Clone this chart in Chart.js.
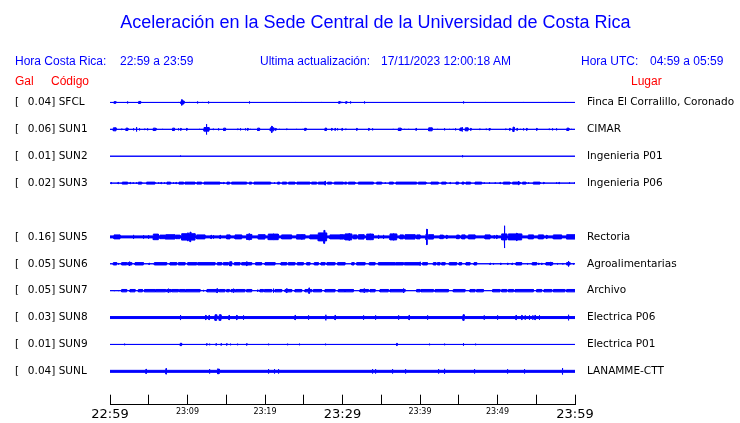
<!DOCTYPE html>
<html>
<head>
<meta charset="utf-8">
<script src="https://cdn.jsdelivr.net/npm/chart.js@4/dist/chart.umd.min.js"></script>
<style>
html,body{margin:0;padding:0;background:#fff;}
#wrap{position:relative;width:740px;height:423px;overflow:hidden;}
#c{position:absolute;left:0;top:0;}
.t{position:absolute;white-space:pre;font-family:"Liberation Sans",Arial,sans-serif;line-height:1;}
.b{color:#0000ff;font-size:12px;}
.r{color:#ff0000;font-size:12px;}
</style>
</head>
<body>
<div id="wrap">
<canvas id="c" width="740" height="423"></canvas>
<div class="t" style="left:0;top:13px;width:751px;text-align:center;font-size:18px;color:#0000ff">Aceleración en la Sede Central de la Universidad de Costa Rica</div>
<div class="t b" style="left:15px;top:55px">Hora Costa Rica:</div>
<div class="t b" style="left:120px;top:55px">22:59 a 23:59</div>
<div class="t b" style="left:260px;top:55px">Ultima actualización:</div>
<div class="t b" style="left:381px;top:55px">17/11/2023 12:00:18 AM</div>
<div class="t b" style="left:581px;top:55px">Hora UTC:</div>
<div class="t b" style="left:650px;top:55px">04:59 a 05:59</div>
<div class="t r" style="left:15px;top:75px">Gal</div>
<div class="t r" style="left:51px;top:75px">Código</div>
<div class="t r" style="left:631px;top:75px">Lugar</div>
</div>
<script>
// ---- data (minutes after 22:59, relative amplitude, duration in minutes) ----
const timeLabels = ['22:59','','23:09','','23:19','','23:29','','23:39','','23:49','','23:59'];
const bigTimeLabels = ['22:59','23:29','23:59'];
const stationCodes = ['SFCL','SUN1','SUN2','SUN3',null,'SUN5','SUN6','SUN7','SUN8','SUN9','SUNL'];
const peakGal = [0.04,0.06,0.01,0.02,null,0.16,0.05,0.05,0.03,0.01,0.04];
const stationPlaces = ['Finca El Corralillo, Coronado','CIMAR','Ingenieria P01','Ingenieria P06',null,'Rectoria','Agroalimentarias','Archivo','Electrica P06','Electrica P01','LANAMME-CTT'];
const noiseLevel = [0,0,0,0,null,1.5,0,0,1.5,0,1.5];

const evSFCL = [[0.52,1.3,0.25],[2.24,1.5],[3.70,1.5,0.25],[8.81,1.0],[9.16,2.0,0.39],[9.25,3.3],[10.23,1.0],[11.27,1.5],[11.91,1.0],[12.69,1.5],[17.97,1.5],[21.46,1.0],[23.91,1.0],[24.68,1.0],[27.26,1.0],[29.5,1.3,0.2],[29.9,1.0],[30.41,1.3,0.15],[31.01,1.5],[32.78,1.5,0.1],[45.59,1.5],[48.43,1.0],[53.33,1.0],[56.56,1.0],[58.75,1.0]];
const evSUN1 = [[0.43,2,0.35],[1.5,1],[2.06,1.7,0.25],[3.01,1.5],[3.4,2.7],[3.78,1.5],[4.47,1],[4.82,1.5],[5.59,1.7,0.3],[5.93,1],[6.75,1],[8.08,1.7,0.25],[8.81,1.5],[9.12,1.5],[9.89,1.5],[11.52,1],[12.13,2.3,0.65],[12.43,5.7],[13.29,1],[13.98,1.5],[14.66,1.7,0.25],[16.47,1],[16.81,1.5],[17.46,1.5],[17.76,1.5],[18.1,1],[19.05,1.7,0.25],[20.68,2,0.47],[20.86,3.7],[21.37,1.5],[21.84,1],[22.79,1],[24.04,1],[24.85,1],[25.11,1.5,0.2],[27.74,1.7,0.2],[28.6,1.5],[29.03,1.5],[29.33,1.5],[29.93,1.5],[30.41,1],[31.83,1.5],[33.38,1.5],[33.85,1.5],[36.52,1],[37.21,1.7,0.35],[37.98,1],[38.5,1],[39.48,1.5],[41.12,2,0.45],[42.24,1],[43.14,1.5],[43.78,1],[44.26,1],[44.56,1.5],[45.16,1.8,0.3],[45.42,2.7],[45.85,2,0.35],[46.54,1.5],[47.7,1],[48.51,1],[48.9,1.3,0.15],[51.05,1],[51.57,1.5],[52.0,2.7,0.15],[52.51,1.5],[52.94,1],[53.33,1.5],[53.76,1.5],[55.05,1.5],[56.64,1],[57.07,1.5],[57.59,1.5],[58.96,1.7,0.25],[59.52,1]];
const evSUN2 = [[9.07,1.2],[45.46,1.5]];
const evSUN3 = [[0.13,1.5],[1.03,1.3],[1.59,1.5,0.69],[2.58,1.3],[2.97,1.3],[3.4,1.3],[3.66,1.5,0.43],[4.73,1.5,1.07],[6.24,1.3],[6.58,1.3],[7.01,1.3],[7.35,1.5,0.47],[8.17,1.3],[8.51,1.3],[8.9,1.5,0.6],[9.68,1.5,1.29],[11.22,1.5,0.6],[12.13,1.5,2.06],[14.4,1.3],[14.66,1.3],[15.09,1.5,0.34],[15.7,1.5,1.94],[17.97,1.5,0.3],[18.58,1.5,2.15],[21.2,1.3],[21.63,1.5,0.26],[22.23,1.5,0.56],[23.05,1.5,0.82],[24.12,1.5,1.68],[26.02,1.5,0.65],[26.88,1.5,0.86],[27.74,2.5],[28.08,1.5,0.52],[28.94,1.5,1.2],[29.68,1.5,0.43],[30.28,1.5,0.26],[30.76,1.5,0.86],[32.05,1.5,1.94],[34.41,1.5,0.65],[35.49,1.3],[36.04,1.5,0.52],[36.9,1.5,2.67],[39.79,1.5,0.99],[41.42,1.5,0.95],[42.8,1.5,0.56],[43.87,1.3],[44.64,1.5,0.34],[45.42,1.5,0.26],[45.93,1.5,0.6],[47.1,1.5,0.86],[48.26,1.3],[48.94,1.3],[49.68,1.3],[50.32,1.3],[50.75,1.5,0.86],[51.95,1.5,0.95],[52.69,2.5],[53.24,1.5,0.43],[53.98,1.3],[54.62,1.5,0.86],[55.95,1.3],[57.59,1.3],[57.93,1.3],[59.26,1.3],[59.91,1.3]];
const evSUN5 = [[0.52,2.5,0.77],[3.01,2.5],[4.3,2.3],[4.95,2.3],[5.59,3.3,0.65],[6.45,2.3,0.65],[7.22,2.7,1.16],[8.51,2.3,0.52],[9.25,3.7,1.72],[10.0,4.5,0.1],[10.32,5.3,0.1],[11.18,2.5,1.07],[13.03,2.3],[13.33,2.3],[14.19,2.3],[15.05,2.5,0.43],[16.13,2.5,0.86],[17.63,3,0.65],[17.93,3.7],[19.13,2.7,0.86],[20.42,3.3,1.29],[21.07,3.7],[22.14,2.5,1.29],[24.08,2.7,1.07],[24.72,3.3],[25.8,2.5,1.07],[26.88,4.5,1.07],[27.6,7,0.1],[28.38,2.5,1.94],[29.68,2.7,0.43],[30.33,3.5,0.86],[30.84,4.3],[31.4,2.5,0.43],[32.05,2.7,0.73],[33.12,3.3,0.86],[33.55,3.7],[34.63,2.5],[35.27,2.5],[36.13,3.5,0.86],[36.56,4],[37.42,2.5,0.43],[38.07,2.7,1.29],[39.57,2.5,0.43],[40.77,3.3,0.17],[40.86,8.3],[41.08,2.7,0.65],[42.58,2.3,0.43],[43.44,2.3],[44.73,2.3,0.34],[45.38,2.5,0.43],[46.24,2.5,0.86],[48.39,2.5,0.65],[49.55,2.3],[49.89,2.3],[50.54,3.5,0.65],[50.88,11.7],[51.4,3.5,1.72],[52.47,4.3],[53.98,2.5,0.65],[55.27,2.5,0.65],[56.34,2.3],[57.2,2.5,1.07],[58.92,2.7,1.07]];
const evSUN6 = [[0.43,1.7,0.43],[1.07,1.3],[1.5,1.7,0.65],[2.28,1.7,0.52],[2.5,2.7],[3.23,1.7,1.07],[5.03,1.3],[5.72,1.7,1.59],[7.74,1.7,0.86],[8.82,1.7,0.86],[10.02,1.7,1.16],[11.31,1.7,2.24],[13.85,1.7,0.56],[14.62,1.7,0.65],[15.44,2.5,0.26],[16.04,1.7,0.73],[16.99,1.7,1.29],[17.63,2.5],[18.79,1.7,0.77],[20.0,1.7,1.29],[22.06,1.7,0.73],[23.0,1.7,0.86],[24.17,1.7,0.77],[25.37,1.7,0.43],[26.36,1.7,0.52],[27.22,1.7,0.52],[27.99,1.7,1.03],[29.37,1.7,0.95],[31.19,1.7,0.3],[31.83,1.7,1.07],[33.46,1.7,0.73],[34.63,1.7,2.15],[36.9,1.7,0.95],[37.98,1.7,2.02],[40.0,2.5],[40.34,1.7,0.6],[41.72,1.7,0.34],[42.24,1.7,0.34],[42.8,1.7,0.43],[43.78,1.7,0.95],[45.03,1.7,0.34],[45.93,1.7,0.52],[46.97,1.7,0.34],[49.03,1.3],[49.46,1.3],[50.41,1.3],[51.31,1.3],[51.87,1.3],[52.38,1.7,0.73],[53.85,1.3],[54.49,1.7,0.56],[55.31,1.3],[55.7,1.3],[56.25,1.7,0.86],[56.86,2.3],[57.72,1.3],[58.4,1.3],[58.92,1.7,0.43],[59.14,3.3],[59.78,1.3]];
const evSUN7 = [[0.52,1],[1.07,1],[1.5,1.7,0.65],[2.58,1.7,0.65],[3.66,1.7,0.52],[4.43,1.7,1.38],[5.89,1.7,1.29],[7.31,1.7,0.56],[7.52,2.5],[7.96,1.7,0.86],[8.95,1.7,0.73],[9.8,1.7,1.81],[12.04,1.3],[12.51,1.7,1.46],[13.8,2.5],[14.1,1.7,0.73],[15.05,1.7,0.34],[15.61,1.7,0.52],[15.91,2.5],[16.25,1.7,1.16],[17.63,1.7,0.65],[19.05,1.3],[19.35,1.7,0.43],[19.91,1.7,0.95],[21.07,2.5],[21.29,1.7,0.86],[22.58,1.7,0.86],[22.79,2.5],[23.87,1.7,0.86],[25.16,1.7,0.86],[25.67,3.3],[26.23,1.7,1.07],[27.74,1.7,1.29],[29.46,1.7,0.86],[30.33,1.7,1.07],[32.26,1.7,1.07],[32.78,2.7],[33.55,1.7,0.65],[34.84,1.7,1.07],[36.13,1.7,1.94],[37.85,2.7],[39.57,1.7,0.43],[40.13,1.7,1.59],[41.94,1.7,1.72],[44.3,1.7,1.5],[46.45,1.7,0.65],[47.31,1.7,0.86],[49.37,1.7,0.95],[50.54,1.7,0.65],[51.4,1.7,0.65],[52.26,1.7,2.37],[55.05,1.7,0.65],[56.0,1.7,0.99],[57.2,1.7,1.5],[58.92,1.7,1.07]];
const evSUN8 = [[9.07,3],[12.34,2.7],[12.77,2.7],[13.55,3.3,0.22],[14.1,3.3,0.22],[15.35,2.7],[16.34,2.7],[17.2,2.7],[23.87,2.7],[25.59,2.7],[27.82,3.3],[29.03,2.7],[32.69,2.7],[34.24,2.7],[37.21,2.7],[38.58,2.7],[40.95,2.7],[45.55,3.3,0.15],[48.26,2.7],[49.98,2.7],[52.38,2.7],[53.12,2.7],[53.55,2.7],[54.1,2.7],[54.53,2.7],[54.83,2.7],[55.39,2.7],[59.14,3.3]];
const evSUN9 = [[1.85,1.3],[9.07,1.7,0.17],[12.47,1.3],[12.82,1.3],[13.67,1.3],[14.32,1.3],[15.05,1.3],[15.52,1.3],[16.43,1.3],[17.63,1.3],[20.43,1.3],[22.88,1.3],[24.42,1.3],[27.78,1.3],[37.0,1.7],[41.2,1.3],[43.14,1.3],[45.55,1.7,0.1],[47.14,1.3]];
const evSUNL = [[4.64,2.7],[7.22,3.3],[12.82,2.7],[13.89,3],[14.06,2.7],[20.43,2.7],[21.2,2.7],[21.72,2.7],[33.85,2.7],[34.24,2.7],[36.43,2.7],[38.11,2.7],[42.37,2.7],[43.14,3],[47.01,2.7],[51.27,2.7],[53.46,2.7],[58.36,3.7]];
const stationEvents = [evSFCL, evSUN1, evSUN2, evSUN3, null, evSUN5, evSUN6, evSUN7, evSUN8, evSUN9, evSUNL];

// ---- rendering helpers ----
const TRACE_COLOR = '#0000ff';
const AMP_TO_ROW = 1 / 27;
const LINE_HALF = 0.5;
const SPIKE_DUR = 0.05;
const T_MIN = 0, T_MAX = 60;

function envelope(events, base) {
  const bp = new Set([T_MIN, T_MAX]);
  events.forEach(e => { const d = e[2] || SPIKE_DUR; bp.add(e[0]); bp.add(Math.min(T_MAX, e[0] + d)); });
  const xs = [...bp].sort((p, q) => p - q);
  const out = [];
  for (let i = 0; i < xs.length - 1; i++) {
    const x0 = xs[i], x1 = xs[i + 1];
    let a = base;
    events.forEach(e => { const d = e[2] || SPIKE_DUR; if (e[0] <= x0 + 1e-9 && e[0] + d >= x1 - 1e-9) a = Math.max(a, e[1]); });
    a = Math.max(0, a - LINE_HALF);
    out.push({x: x0, a}, {x: x1, a});
  }
  return out;
}

const rows = stationCodes.map((c, i) => c ? i : null).filter(v => v !== null);
const datasets = [];
rows.forEach(i => {
  const env = envelope(stationEvents[i], noiseLevel[i]);
  const common = {borderColor: TRACE_COLOR, backgroundColor: TRACE_COLOR, borderWidth: 1, pointRadius: 0, tension: 0};
  datasets.push(Object.assign({label: stationCodes[i] + '+', data: env.map(p => ({x: p.x, y: i - p.a * AMP_TO_ROW})), fill: '+1'}, common));
  datasets.push(Object.assign({label: stationCodes[i] + '-', data: env.map(p => ({x: p.x, y: i + p.a * AMP_TO_ROW})), fill: false}, common));
});

const Y_MIN = -0.5, Y_MAX = 11.2407;
Chart.defaults.font.family = 'DejaVu Sans';
Chart.defaults.color = '#000';
const SP = '  \u2009';

new Chart(document.getElementById('c'), {
  type: 'line',
  data: {datasets},
  options: {
    responsive: false,
    animation: false,
    events: [],
    layout: {padding: {left: 15, top: 89, right: 0, bottom: 0}},
    plugins: {legend: {display: false}, tooltip: {enabled: false}},
    scales: {
      x: {
        type: 'linear', min: T_MIN, max: T_MAX, position: 'bottom',
        afterBuildTicks: s => { s.ticks = timeLabels.map((l, k) => ({value: T_MIN + k * (T_MAX - T_MIN) / (timeLabels.length - 1)})); },
        ticks: {
          autoSkip: false, maxRotation: 0, padding: 12, color: '#000',
          callback: (v, k) => timeLabels[k],
          font: ctx => ({family: 'DejaVu Sans', size: bigTimeLabels.includes(timeLabels[ctx.index]) ? 13 : 8})
        },
        grid: {drawOnChartArea: false, tickLength: -10, color: '#000', lineWidth: 1},
        border: {display: true, color: '#000', width: 1},
        afterFit: s => { s.height = 15.7; }
      },
      y: {
        type: 'linear', min: Y_MIN, max: Y_MAX, reverse: true, position: 'left',
        afterBuildTicks: s => { s.ticks = rows.map(v => ({value: v})); },
        ticks: {
          autoSkip: false, crossAlign: 'far', padding: 0, color: '#000',
          font: {family: 'DejaVu Sans', size: 10.5},
          callback: v => '[' + SP + peakGal[v].toFixed(2) + '] ' + stationCodes[v]
        },
        grid: {display: false, drawTicks: false},
        border: {display: false},
        afterFit: s => { s.width = 95; }
      },
      y2: {
        type: 'linear', min: Y_MIN, max: Y_MAX, reverse: true, position: 'right',
        afterBuildTicks: s => { s.ticks = rows.map(v => ({value: v})); },
        ticks: {
          autoSkip: false, padding: 12, color: '#000',
          font: {family: 'DejaVu Sans', size: 10.5},
          callback: v => stationPlaces[v]
        },
        grid: {display: false, drawTicks: false},
        border: {display: false},
        afterFit: s => { s.width = 165; }
      }
    }
  }
});
</script>
</body>
</html>
